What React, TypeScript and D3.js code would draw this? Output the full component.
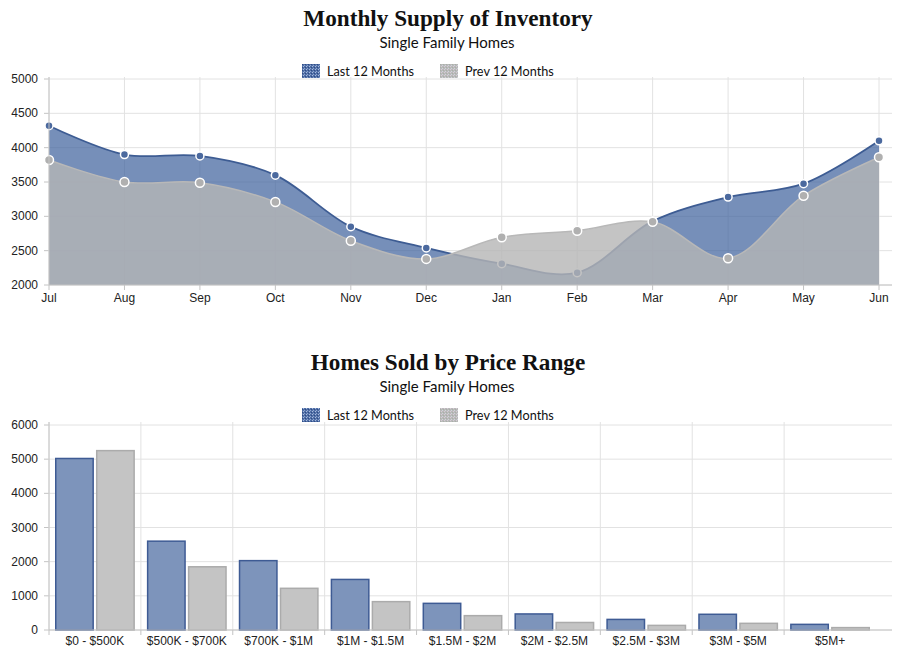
import React from 'react';
import * as d3 from 'd3';

const months = ['Jul', 'Aug', 'Sep', 'Oct', 'Nov', 'Dec', 'Jan', 'Feb', 'Mar', 'Apr', 'May', 'Jun'];
const supplyLast = [4320, 3900, 3880, 3600, 2850, 2540, 2310, 2180, 2930, 3280, 3475, 4100];
const supplyPrev = [3820, 3500, 3490, 3210, 2645, 2380, 2695, 2790, 2920, 2390, 3300, 3860];
const supplyTicks = [2000, 2500, 3000, 3500, 4000, 4500, 5000];

const priceRanges = ['$0 - $500K', '$500K - $700K', '$700K - $1M', '$1M - $1.5M', '$1.5M - $2M', '$2M - $2.5M', '$2.5M - $3M', '$3M - $5M', '$5M+'];
const soldLast = [5020, 2600, 2030, 1480, 780, 470, 310, 460, 165];
const soldPrev = [5250, 1850, 1220, 830, 420, 220, 135, 195, 70];
const soldTicks = [0, 1000, 2000, 3000, 4000, 5000, 6000];

const seriesNames = ['Last 12 Months', 'Prev 12 Months'];
const titles = ['Monthly Supply of Inventory', 'Homes Sold by Price Range'];
const subtitle = 'Single Family Homes';

const AXIS = '#c4c4c4';
const GRID = '#e2e2e2';
const LABEL = '#222';
const SANS = '"Liberation Sans", Arial, sans-serif';
const SERIF = '"Liberation Serif", "Times New Roman", serif';
const HUMAN = 'Lato, "Open Sans", sans-serif';

function Header({ top, title }: { top: number; title: string }) {
  return (
    <g>
      <text x={448} y={top + 26} textAnchor="middle" fontFamily={SERIF} fontWeight="bold" fontSize={23.2} fill="#111">{title}</text>
      <text x={447} y={top + 48} textAnchor="middle" fontFamily={HUMAN} fontSize={15} fill="#111">{subtitle}</text>
      <rect x={302} y={top + 64} width={18} height={14} fill="url(#patBlue)" />
      <text x={327} y={top + 76} fontFamily={HUMAN} fontSize={12.7} fill="#111">{seriesNames[0]}</text>
      <rect x={440} y={top + 64} width={18} height={14} fill="url(#patGrey)" />
      <text x={465} y={top + 76} fontFamily={HUMAN} fontSize={12.7} fill="#111">{seriesNames[1]}</text>
    </g>
  );
}

function SupplyChart() {
  const x = d3.scalePoint<string>().domain(months).range([49, 879]);
  const y = d3.scaleLinear().domain([2000, 5000]).range([285, 79]);
  const curve = d3.curveCatmullRom.alpha(0.5);
  const area = d3.area<number>().x((_, i) => x(months[i])!).y0(y(2000)).y1(d => y(d)).curve(curve);
  const line = d3.line<number>().x((_, i) => x(months[i])!).y(d => y(d)).curve(curve);
  return (
    <g>
      <Header top={0} title={titles[0]} />
      {supplyTicks.map(t => (
        <g key={t}>
          <line x1={49} x2={892} y1={y(t)} y2={y(t)} stroke={GRID} />
          <line x1={44} x2={49} y1={y(t)} y2={y(t)} stroke={AXIS} />
          <text x={38} y={y(t) + 4} textAnchor="end" fontFamily={SANS} fontSize={12} fill={LABEL}>{t}</text>
        </g>
      ))}
      {months.map(m => (
        <g key={m}>
          <line x1={x(m)} x2={x(m)} y1={77} y2={285} stroke={GRID} />
          <line x1={x(m)} x2={x(m)} y1={285} y2={290} stroke={AXIS} />
          <text x={x(m)} y={302} textAnchor="middle" fontFamily={SANS} fontSize={12} fill={LABEL}>{m}</text>
        </g>
      ))}
      <path d={area(supplyLast)!} fill="rgb(60,95,155)" fillOpacity={0.7} />
      <path d={line(supplyLast)!} fill="none" stroke="#3d5c93" strokeWidth={1.8} />
      {supplyLast.map((v, i) => (
        <circle key={i} cx={x(months[i])} cy={y(v)} r={4} fill="#4b699e" stroke="#fff" strokeWidth={1.5} />
      ))}
      <path d={area(supplyPrev)!} fill="rgb(181,181,181)" fillOpacity={0.8} />
      <path d={line(supplyPrev)!} fill="none" stroke="#b8b8b8" strokeWidth={1.5} />
      {supplyPrev.map((v, i) => (
        <circle key={i} cx={x(months[i])} cy={y(v)} r={4.5} fill="#b0b0b0" stroke="#fff" strokeWidth={1.5} />
      ))}
      <line x1={49} x2={49} y1={77} y2={285} stroke={AXIS} />
      <line x1={49} x2={892} y1={285} y2={285} stroke={AXIS} />
    </g>
  );
}

function SoldChart() {
  const top = 344;
  const x = d3.scaleBand<string>().domain(priceRanges).range([49, 876]);
  const bw = x.bandwidth();
  const x1 = d3.scaleBand<string>().domain(seriesNames).range([6, bw - 6]).paddingInner(0.05);
  const y = d3.scaleLinear().domain([0, 6000]).range([630, 425]);
  return (
    <g>
      <Header top={top} title={titles[1]} />
      {soldTicks.map(t => (
        <g key={t}>
          <line x1={49} x2={892} y1={y(t)} y2={y(t)} stroke={GRID} />
          <line x1={44} x2={49} y1={y(t)} y2={y(t)} stroke={AXIS} />
          <text x={38} y={y(t) + 4} textAnchor="end" fontFamily={SANS} fontSize={12} fill={LABEL}>{t}</text>
        </g>
      ))}
      {priceRanges.map(c => (
        <g key={c}>
          <line x1={x(c)} x2={x(c)} y1={422} y2={630} stroke={GRID} />
          <line x1={x(c)} x2={x(c)} y1={630} y2={635} stroke={AXIS} />
          <text x={x(c)! + bw / 2} y={645} textAnchor="middle" fontFamily={SANS} fontSize={12} fill={LABEL}>{c}</text>
        </g>
      ))}
      {priceRanges.map((c, i) => (
        <g key={c} transform={`translate(${x(c)},0)`}>
          <rect x={x1(seriesNames[0])! + 0.75} y={y(soldLast[i])} width={x1.bandwidth() - 1.5} height={y(0) - y(soldLast[i])}
            fill="#7d94bb" stroke="#3e5b94" strokeWidth={1.5} />
          <rect x={x1(seriesNames[1])! + 0.75} y={y(soldPrev[i])} width={x1.bandwidth() - 1.5} height={y(0) - y(soldPrev[i])}
            fill="#c4c4c4" stroke="#ababab" strokeWidth={1.5} />
        </g>
      ))}
      <line x1={49} x2={49} y1={422} y2={630} stroke={AXIS} />
      <line x1={49} x2={892} y1={630} y2={630} stroke={AXIS} />
    </g>
  );
}

export default function App() {
  return (
    <svg width={909} height={670} style={{ position: 'absolute', left: 0, top: 0, background: '#fff' }}>
      <defs>
        <pattern id="patBlue" width={3} height={3} patternUnits="userSpaceOnUse">
          <rect width={3} height={3} fill="#4f6ea6" />
          <rect width={1} height={1} fill="#a9bbdc" />
          <rect x={2} y={1} width={1} height={1} fill="#2f4c85" />
          <rect x={1} y={2} width={1} height={1} fill="#8ea5cf" />
        </pattern>
        <pattern id="patGrey" width={3} height={3} patternUnits="userSpaceOnUse">
          <rect width={3} height={3} fill="#b9b9b9" />
          <rect width={1} height={1} fill="#d6cbd6" />
          <rect x={2} y={1} width={1} height={1} fill="#a8b0a8" />
          <rect x={1} y={2} width={1} height={1} fill="#cfd4dc" />
        </pattern>
      </defs>
      <SupplyChart />
      <SoldChart />
    </svg>
  );
}
